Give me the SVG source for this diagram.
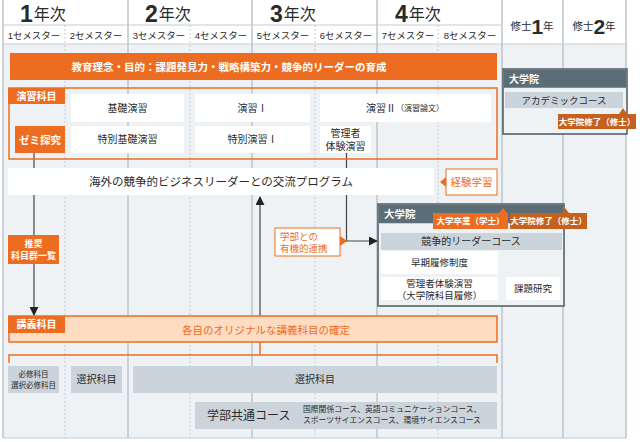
<svg xmlns="http://www.w3.org/2000/svg" width="640" height="442" viewBox="0 0 640 442">
<style>
text{font-family:"Liberation Sans","Noto Sans CJK JP",sans-serif;fill:#2a2a2a;dominant-baseline:central}
.c{text-anchor:middle}
.w{fill:#ffffff;font-weight:bold}
.o{fill:#ec6d21}
.yl{stroke:#bcc6cc;stroke-width:1.5;fill:none}
.sl{stroke:#c3ccd2;stroke-width:1;stroke-dasharray:2 2;fill:none}
.hl{stroke:#c3ccd2;stroke-width:1;fill:none}
.of{fill:#ec6d21}
.df{fill:#c4611f}
.wb{fill:#ffffff}
.gb{fill:#cbd4da}
.ob{fill:#ffffff;stroke:#ec6d21;stroke-width:1}
.gr{fill:#eef2f5;stroke:#4b5960;stroke-width:1.5}
.sh{fill:#5b6d76}
.cn{stroke:#444;stroke-width:1.2;fill:none}
.on{stroke:#ec6d21;stroke-width:1.5;fill:none}
.ah{fill:#222}
.sem{font-size:9.5px}
</style>
<defs>
<marker id="arr" viewBox="0 0 10 10" refX="9" refY="5" markerWidth="9" markerHeight="9" markerUnits="userSpaceOnUse" orient="auto">
<path d="M0,0 L10,5 L0,10 Z" class="ah"/>
</marker>
</defs>
<rect x="0" y="0" width="640" height="442" fill="#ffffff"/>
<g id="grid">
<rect x="3" y="44" width="623" height="394" fill="#eef2f5"/>
<path class="hl" d="M3,25 H502 M3,44 H626 M3,438 H626"/>
<path class="yl" d="M3,0 V438 M128,0 V438 M252,0 V438 M377,0 V438 M502,0 V438 M563,0 V438 M626,0 V438"/>
<path class="sl" d="M65,25 V438 M190,25 V438 M315,25 V438 M438,25 V438"/>
</g>
<g id="header">
<text x="20" y="13.5"><tspan font-size="23" font-weight="bold">1</tspan><tspan font-size="16" dx="1">年次</tspan></text>
<text x="145" y="13.5"><tspan font-size="23" font-weight="bold">2</tspan><tspan font-size="16" dx="1">年次</tspan></text>
<text x="270" y="13.5"><tspan font-size="23" font-weight="bold">3</tspan><tspan font-size="16" dx="1">年次</tspan></text>
<text x="395" y="13.5"><tspan font-size="23" font-weight="bold">4</tspan><tspan font-size="16" dx="1">年次</tspan></text>
<text class="c" x="532" y="26"><tspan font-size="10.5">修士</tspan><tspan font-size="21" font-weight="bold">1</tspan><tspan font-size="10.5">年</tspan></text>
<text class="c" x="594" y="26"><tspan font-size="10.5">修士</tspan><tspan font-size="21" font-weight="bold">2</tspan><tspan font-size="10.5">年</tspan></text>
<text class="c sem" x="34" y="35">1セメスター</text>
<text class="c sem" x="96" y="35">2セメスター</text>
<text class="c sem" x="159" y="35">3セメスター</text>
<text class="c sem" x="221" y="35">4セメスター</text>
<text class="c sem" x="283" y="35">5セメスター</text>
<text class="c sem" x="346" y="35">6セメスター</text>
<text class="c sem" x="408" y="35">7セメスター</text>
<text class="c sem" x="470" y="35">8セメスター</text>
</g>
<g id="connectors">
<path class="cn" d="M34,153 V315" marker-end="url(#arr)"/>
<path class="cn" d="M260,316 V197" marker-end="url(#arr)"/>
<path class="cn" d="M346.5,153 V241 H377" marker-end="url(#arr)"/>
<path class="on" d="M260,342 V355 M9,363 V355 H497 V363"/>
</g>
<g id="banner">
<rect x="10" y="53" width="487" height="27" class="of"/>
<text class="c w" x="229" y="66.5" font-size="10.5">教育理念・目的：課題発見力・戦略構築力・競争的リーダーの育成</text>
</g>
<g id="enshu">
<rect x="9" y="88" width="488" height="71" class="on"/>
<rect x="8" y="88" width="57" height="16" class="of"/>
<text class="c w" x="36.5" y="96" font-size="10">演習科目</text>
</g>
<g id="zemi">
<rect x="15" y="126" width="50" height="27" class="of"/>
<text class="c w" x="40" y="139.5" font-size="10.5">ゼミ探究</text>
</g>
<g id="kiso">
<rect x="71" y="94" width="113" height="28" class="wb"/>
<text class="c" x="127.5" y="108" font-size="10">基礎演習</text>
</g>
<g id="enshu1">
<rect x="195" y="94" width="115" height="28" class="wb"/>
<text class="c" x="252.5" y="108" font-size="10">演習Ⅰ</text>
</g>
<g id="enshu2">
<rect x="320" y="94" width="171" height="28" class="wb"/>
<text class="c" x="405" y="108"><tspan font-size="10">演習Ⅱ</tspan><tspan font-size="8">（演習論文）</tspan></text>
</g>
<g id="tokubetsukiso">
<rect x="71" y="126" width="113" height="27" class="wb"/>
<text class="c" x="127.5" y="139.5" font-size="10">特別基礎演習</text>
</g>
<g id="tokubetsu1">
<rect x="195" y="126" width="115" height="27" class="wb"/>
<text class="c" x="252.5" y="139.5" font-size="10">特別演習Ⅰ</text>
</g>
<g id="kanrisha">
<rect x="320" y="126" width="51" height="27" class="wb"/>
<text class="c" x="345.5" y="133.5" font-size="10">管理者</text>
<text class="c" x="345.5" y="146" font-size="10">体験演習</text>
</g>
<g id="kouryu">
<rect x="8" y="168" width="426" height="27" class="wb"/>
<text class="c" x="221" y="182" font-size="11.5">海外の競争的ビジネスリーダーとの交流プログラム</text>
</g>
<g id="keiken">
<rect x="446" y="169" width="51" height="26" class="ob"/>
<path d="M446,177 L440,182 L446,187 Z" class="of"/>
<text class="c o" x="471.5" y="182" font-size="10.5">経験学習</text>
</g>
<g id="suisho">
<rect x="8" y="235" width="51" height="29" class="of"/>
<text class="c w" x="33.5" y="244" font-size="9">推奨</text>
<text class="c w" x="33.5" y="256" font-size="9">科目群一覧</text>
</g>
<g id="renkei">
<rect x="275" y="228" width="65" height="28" class="ob"/>
<path d="M340,236 L347,241 L340,246 Z" class="of"/>
<text class="o" x="280" y="236" font-size="9.5">学部との</text>
<text class="o" x="280" y="248.5" font-size="9.5">有機的連携</text>
</g>
<g id="daigakuin-upper">
<rect x="503" y="69" width="124" height="65" class="gr"/>
<rect x="503.75" y="69.75" width="122.5" height="18" class="sh"/>
<text class="w" x="509" y="79" font-size="10">大学院</text>
<rect x="505" y="92" width="118" height="16" class="gb"/>
<text class="c" x="564" y="100" font-size="9.5">アカデミックコース</text>
</g>
<g id="shushi-upper">
<rect x="558" y="114" width="78" height="15" class="df"/>
<path d="M619,114 L623,108 L627,114 Z" class="df"/>
<text class="c w" x="597" y="121.5" font-size="8.5">大学院修了（修士）</text>
</g>
<g id="daigakuin-lower">
<rect x="378" y="204" width="186" height="102" class="gr"/>
<rect x="378.75" y="204.75" width="184.5" height="18.5" class="sh"/>
<text class="w" x="384" y="214" font-size="10.5">大学院</text>
<rect x="381" y="233" width="181" height="17" class="gb"/>
<text class="c" x="471" y="241.5" font-size="10">競争的リーダーコース</text>
</g>
<g id="sotsugyo">
<rect x="433" y="213" width="75" height="16" class="of"/>
<path d="M499,213 L503,208 L507,213 Z" class="of"/>
<text class="c w" x="470.5" y="221" font-size="8.5">大学卒業（学士）</text>
</g>
<g id="shushi-lower">
<rect x="510" y="213" width="77" height="16" class="df"/>
<path d="M561,213 L565,208 L569,213 Z" class="df"/>
<text class="c w" x="548.5" y="221" font-size="8.5">大学院修了（修士）</text>
</g>
<g id="soki">
<rect x="381" y="251" width="117" height="23" class="wb"/>
<text class="c" x="439.5" y="262.5" font-size="9.5">早期履修制度</text>
</g>
<g id="kanrisha-in">
<rect x="381" y="277" width="117" height="23" class="wb"/>
<text class="c" x="439.5" y="283" font-size="9.5">管理者体験演習</text>
<text class="c" x="439.5" y="295" font-size="9.5">（大学院科目履修）</text>
</g>
<g id="kadai">
<rect x="506" y="277" width="54" height="23" class="wb"/>
<text class="c" x="533" y="288.5" font-size="9.5">課題研究</text>
</g>
<g id="kogi">
<rect x="9" y="316" width="488" height="26" fill="#fddcc1" stroke="#ec6d21" stroke-width="1.5"/>
<rect x="8" y="316" width="57" height="17" class="of"/>
<text class="c w" x="36.5" y="324.5" font-size="10">講義科目</text>
<text class="c o" x="266" y="330" font-size="10.5">各自のオリジナルな講義科目の確定</text>
</g>
<g id="hisshu">
<rect x="8" y="366" width="51" height="27" class="gb"/>
<text class="c" x="33.5" y="374.5" font-size="7.5">必修科目</text>
<text class="c" x="33.5" y="385.5" font-size="7.5">選択必修科目</text>
</g>
<g id="sentaku1">
<rect x="71" y="366" width="51" height="27" class="gb"/>
<text class="c" x="96.5" y="379.5" font-size="10">選択科目</text>
</g>
<g id="sentaku2">
<rect x="133" y="366" width="364" height="27" class="gb"/>
<text class="c" x="315" y="379.5" font-size="10">選択科目</text>
</g>
<g id="kyotsu">
<rect x="195" y="402" width="302" height="27" class="gb"/>
<text x="207" y="415.5" font-size="12">学部共通コース</text>
<text x="303" y="409" font-size="7.8">国際関係コース、英語コミュニケーションコース、</text>
<text x="303" y="420.5" font-size="7.8">スポーツサイエンスコース、環境サイエンスコース</text>
</g>
</svg>
